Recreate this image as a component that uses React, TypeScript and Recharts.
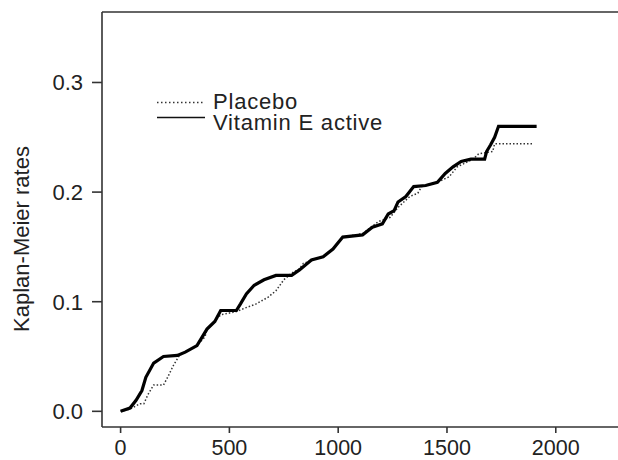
import { LineChart, Line, XAxis, YAxis, ReferenceLine } from "recharts";

// Kaplan-Meier curves (days, cumulative event rate)
const placeboDays = [0, 43, 89, 107, 125, 152, 197, 216, 243, 270, 297, 351, 388, 397, 460, 532, 569, 623, 677, 714, 750, 786, 822, 840, 931, 976, 1021, 1112, 1184, 1239, 1275, 1329, 1366, 1384, 1456, 1510, 1547, 1619, 1646, 1710, 1719, 1891];
const placeboRates = [0, 0.002, 0.007, 0.007, 0.015, 0.024, 0.024, 0.031, 0.042, 0.051, 0.054, 0.06, 0.068, 0.075, 0.088, 0.091, 0.094, 0.098, 0.104, 0.11, 0.12, 0.126, 0.13, 0.135, 0.141, 0.148, 0.159, 0.162, 0.173, 0.177, 0.186, 0.196, 0.199, 0.205, 0.209, 0.214, 0.223, 0.23, 0.235, 0.237, 0.244, 0.244];

const vitaminDays = [0, 43, 71, 98, 116, 152, 197, 261, 297, 351, 397, 433, 460, 532, 551, 578, 614, 659, 714, 786, 822, 877, 931, 976, 1021, 1112, 1157, 1203, 1230, 1257, 1275, 1311, 1347, 1402, 1456, 1492, 1528, 1565, 1610, 1673, 1682, 1700, 1719, 1737, 1912];
const vitaminRates = [0, 0.003, 0.01, 0.019, 0.031, 0.044, 0.05, 0.051, 0.054, 0.06, 0.075, 0.082, 0.092, 0.092, 0.098, 0.107, 0.115, 0.12, 0.124, 0.124, 0.129, 0.138, 0.141, 0.148, 0.159, 0.161, 0.168, 0.171, 0.18, 0.183, 0.191, 0.196, 0.205, 0.206, 0.209, 0.217, 0.223, 0.228, 0.23, 0.23, 0.237, 0.243, 0.25, 0.26, 0.26];

const xTicks = [0, 500, 1000, 1500, 2000];
const yTicks = [0, 0.1, 0.2, 0.3];

const placeboData = placeboDays.map((t, i) => ({ t, rate: placeboRates[i] }));
const vitaminData = vitaminDays.map((t, i) => ({ t, rate: vitaminRates[i] }));

const FONT = "'Liberation Sans', Arial, Helvetica, sans-serif";
const AXIS = "#333";
const Y_MAX = 0.3643;

// legend drawn as an overlay so it does not eat into the plot area
const KmLegend = () => (
  <svg width={260} height={50} style={{ position: "absolute", left: 150, top: 85 }}>
    <line x1={7} x2={55} y1={17.5} y2={17.5} stroke="#333" strokeWidth={1.5} strokeDasharray="1.5 2.5" />
    <line x1={7} x2={55} y1={32.5} y2={32.5} stroke="#111" strokeWidth={1.6} />
    <text x={63} y={23.5} fontSize={22} letterSpacing={0.8} fill="#222" fontFamily={FONT}>Placebo</text>
    <text x={63} y={45} fontSize={22} letterSpacing={0.8} fill="#222" fontFamily={FONT}>Vitamin E active</text>
  </svg>
);

export default function App() {
  return (
    <div style={{ position: "absolute", left: 0, top: 0, width: 618, height: 460, overflow: "hidden", background: "#fff" }}>
      <LineChart width={618} height={460} margin={{ top: 12, right: 0, bottom: 0, left: 0 }}>
        <XAxis
          dataKey="t"
          type="number"
          domain={[-85.5, 2286]}
          ticks={xTicks}
          allowDataOverflow
          height={33}
          tickSize={6}
          tickMargin={7}
          stroke={AXIS}
          strokeWidth={1.6}
          tick={{ fontSize: 21.5, fill: "#222", fontFamily: FONT }}
        />
        <YAxis
          type="number"
          domain={[-0.0143, Y_MAX]}
          ticks={yTicks}
          allowDataOverflow
          width={102}
          tickSize={10}
          tickMargin={9}
          stroke={AXIS}
          strokeWidth={1.6}
          tickFormatter={(v: number) => v.toFixed(1)}
          tick={{ fontSize: 22, fill: "#222", fontFamily: FONT }}
          label={{
            content: () => (
              <text x={29} y={239} transform="rotate(-90 29 239)" textAnchor="middle" fontSize={22} fill="#222" fontFamily={FONT}>
                Kaplan-Meier rates
              </text>
            ),
          }}
        />
        <ReferenceLine y={Y_MAX} stroke={AXIS} strokeWidth={1.6} />
        <Line
          data={placeboData}
          dataKey="rate"
          type="linear"
          stroke="#333"
          strokeWidth={1.5}
          strokeDasharray="1.5 2"
          dot={false}
          isAnimationActive={false}
        />
        <Line
          data={vitaminData}
          dataKey="rate"
          type="linear"
          stroke="#000"
          strokeWidth={3.2}
          dot={false}
          isAnimationActive={false}
        />
      </LineChart>
      <KmLegend />
    </div>
  );
}
